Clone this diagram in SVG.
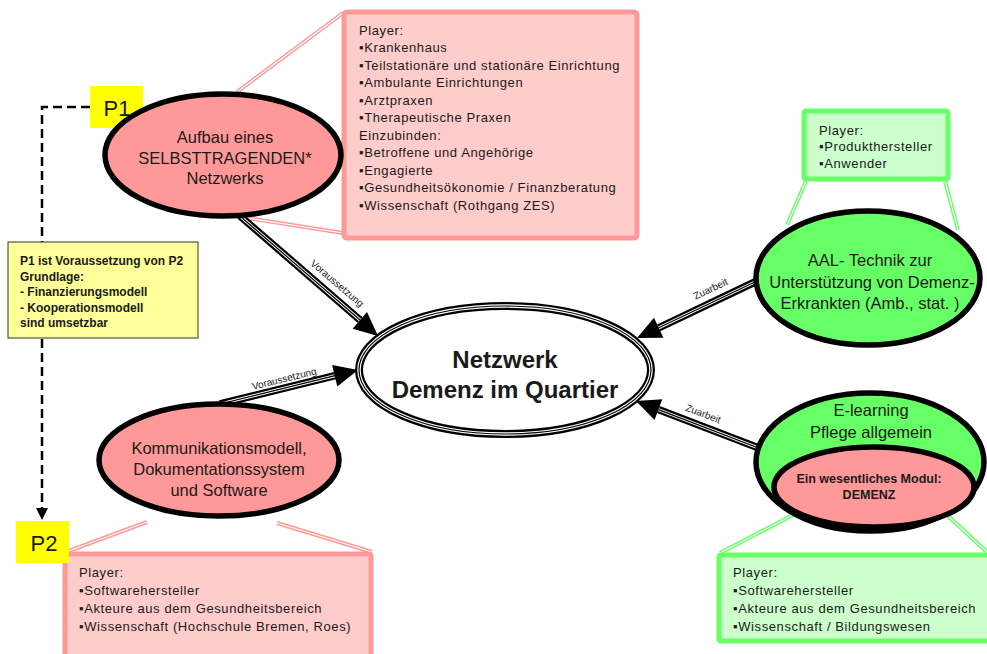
<svg xmlns="http://www.w3.org/2000/svg" width="987" height="654" viewBox="0 0 987 654">
<style>
text{font-family:"Liberation Sans",Arial,sans-serif;fill:#1a1a1a}
.bx{font-size:13px;letter-spacing:0.6px}
.el{font-size:16.5px}
.lab{font-size:10px}
.pinkbox{fill:#ffcccc;stroke:#ff9999;stroke-width:5}
.greenbox{fill:#ccffcc;stroke:#66ff66;stroke-width:5}
.pinkel{fill:#ff9999;stroke:#000;stroke-width:5.5}
.greenel{fill:#66ff66;stroke:#000;stroke-width:5.5}
.cpo{stroke:#ff9999;stroke-width:4;fill:none}
.cgo{stroke:#66ff66;stroke-width:4;fill:none}
.ci{stroke:#fff;stroke-width:1.2;fill:none}
.ao{stroke:#000;stroke-width:7.5;fill:none}
.ai{stroke:#fff;stroke-width:3;fill:none}
.ac{stroke:#000;stroke-width:1.2;fill:none}
.head{fill:#000}
</style>

<g id="callouts">
  <path class="cpo" d="M343,13 L237,92 M343,233 L247,218"/>
  <path class="ci" d="M343,13 L237,92 M343,233 L247,218"/>
  <path class="cgo" d="M806,181 L787,225 M945,181 L958,230"/>
  <path class="ci" d="M806,181 L787,225 M945,181 L958,230"/>
  <path class="cgo" d="M720,553 L793,515 M987,552 L947,515"/>
  <path class="ci" d="M720,553 L793,515 M987,552 L947,515"/>
  <path class="cpo" d="M66,552 L147,522 M372,552 L277,523"/>
  <path class="ci" d="M66,552 L147,522 M372,552 L277,523"/>
</g>

<g id="box-top">
  <rect class="pinkbox" x="344" y="12" width="293" height="226" rx="3"/>
  <text class="bx" x="359" y="35">Player:</text>
  <text class="bx" x="359" y="52">▪Krankenhaus</text>
  <text class="bx" x="359" y="69.5">▪Teilstationäre und stationäre Einrichtung</text>
  <text class="bx" x="359" y="87">▪Ambulante Einrichtungen</text>
  <text class="bx" x="359" y="104.5">▪Arztpraxen</text>
  <text class="bx" x="359" y="122">▪Therapeutische Praxen</text>
  <text class="bx" x="359" y="139.5">Einzubinden:</text>
  <text class="bx" x="359" y="157">▪Betroffene und Angehörige</text>
  <text class="bx" x="359" y="174.5">▪Engagierte</text>
  <text class="bx" x="359" y="192">▪Gesundheitsökonomie / Finanzberatung</text>
  <text class="bx" x="359" y="209.5">▪Wissenschaft (Rothgang ZES)</text>
</g>

<g id="box-aal">
  <rect class="greenbox" x="804" y="111" width="144" height="68" rx="2"/>
  <text class="bx" x="819" y="135">Player:</text>
  <text class="bx" x="819" y="151">▪Produkthersteller</text>
  <text class="bx" x="819" y="168">▪Anwender</text>
</g>

<g id="box-elearning">
  <rect class="greenbox" x="719" y="555" width="272" height="86" rx="2"/>
  <text class="bx" x="733" y="577">Player:</text>
  <text class="bx" x="733" y="594.5">▪Softwarehersteller</text>
  <text class="bx" x="733" y="612.5">▪Akteure aus dem Gesundheitsbereich</text>
  <text class="bx" x="733" y="630.5">▪Wissenschaft / Bildungswesen</text>
</g>

<g id="box-komm">
  <rect class="pinkbox" x="65" y="554" width="306" height="110" rx="2"/>
  <text class="bx" x="79" y="577">Player:</text>
  <text class="bx" x="79" y="594.5">▪Softwarehersteller</text>
  <text class="bx" x="79" y="612.5">▪Akteure aus dem Gesundheitsbereich</text>
  <text class="bx" x="79" y="630.5">▪Wissenschaft (Hochschule Bremen, Roes)</text>
</g>

<g id="dashed">
  <path d="M90,107 L42,107 L42,510" stroke="#000" stroke-width="2.5" fill="none" stroke-dasharray="9,5"/>
  <polygon points="42,520 36,508 48,508" fill="#000"/>
</g>

<g id="note">
  <rect x="8" y="242" width="190" height="96" fill="#ffff99" stroke="#333" stroke-width="1"/>
  <text x="20" y="265" font-size="12" font-weight="bold">P1 ist Voraussetzung von P2</text>
  <text x="20" y="280.5" font-size="12" font-weight="bold">Grundlage:</text>
  <text x="20" y="296" font-size="12" font-weight="bold">- Finanzierungsmodell</text>
  <text x="20" y="311.5" font-size="12" font-weight="bold">- Kooperationsmodell</text>
  <text x="20" y="327" font-size="12" font-weight="bold">sind umsetzbar</text>
</g>

<g id="connectors">
  <path class="ao" d="M240,216 L360,320"/>
  <path class="ai" d="M240,216 L360,320"/>
  <path class="ac" d="M240,216 L360,320"/>
  <polygon class="head" points="378,336 352.6,328.8 367,312"/>
  <text class="lab" transform="translate(335,286) rotate(40.5)" text-anchor="middle">Voraussetzung</text>

  <path class="ao" d="M220,404 L335,375.7"/>
  <path class="ai" d="M220,404 L335,375.7"/>
  <path class="ac" d="M220,404 L335,375.7"/>
  <polygon class="head" points="358,370 337.3,386.4 332.1,365"/>
  <text class="lab" transform="translate(285,382) rotate(-13.8)" text-anchor="middle">Voraussetzung</text>

  <path class="ao" d="M757,281 L658.7,327.8"/>
  <path class="ai" d="M757,281 L658.7,327.8"/>
  <path class="ac" d="M757,281 L658.7,327.8"/>
  <polygon class="head" points="637,338 654,317.8 663.4,337.8"/>
  <text class="lab" transform="translate(712,292) rotate(-25.2)" text-anchor="middle">Zuarbeit</text>

  <path class="ao" d="M790,460 L658.4,409.6"/>
  <path class="ai" d="M790,460 L658.4,409.6"/>
  <path class="ac" d="M790,460 L658.4,409.6"/>
  <polygon class="head" points="636,401 662.3,399.3 654.5,419.9"/>
  <text class="lab" transform="translate(702,417) rotate(21)" text-anchor="middle">Zuarbeit</text>
</g>

<g id="p1">
  <rect x="90" y="86" width="53" height="42" fill="#ffff00"/>
  <text x="117" y="116" font-size="22" text-anchor="middle">P1</text>
</g>

<g id="p2">
  <rect x="16" y="521" width="53" height="42" fill="#ffff00"/>
  <text x="44" y="551" font-size="22" text-anchor="middle">P2</text>
</g>

<g id="node-aufbau">
  <ellipse class="pinkel" cx="223" cy="155" rx="118" ry="61"/>
  <text class="el" x="225" y="143" text-anchor="middle">Aufbau eines</text>
  <text class="el" x="225" y="164" text-anchor="middle">SELBSTTRAGENDEN*</text>
  <text class="el" x="225" y="184" text-anchor="middle">Netzwerks</text>
</g>

<g id="node-center">
  <ellipse cx="505" cy="370" rx="146" ry="64" fill="#fff" stroke="#000" stroke-width="8"/>
  <ellipse cx="505" cy="370" rx="146" ry="64" fill="none" stroke="#fff" stroke-width="3.5"/>
  <ellipse cx="505" cy="370" rx="146" ry="64" fill="none" stroke="#000" stroke-width="1.2"/>
  <text x="505" y="368" font-size="24" font-weight="bold" text-anchor="middle">Netzwerk</text>
  <text x="505" y="398" font-size="24" font-weight="bold" text-anchor="middle">Demenz im Quartier</text>
</g>

<g id="node-aal">
  <ellipse class="greenel" cx="868" cy="278" rx="112" ry="67"/>
  <text class="el" x="870" y="266" text-anchor="middle">AAL- Technik zur</text>
  <text class="el" x="872" y="288" text-anchor="middle">Unterstützung von Demenz-</text>
  <text class="el" x="870" y="309" text-anchor="middle">Erkrankten (Amb., stat. )</text>
</g>

<g id="node-elearning">
  <ellipse class="greenel" cx="870" cy="462" rx="114" ry="69"/>
  <text class="el" x="871" y="416" text-anchor="middle">E-learning</text>
  <text class="el" x="871" y="438" text-anchor="middle">Pflege allgemein</text>
  <ellipse cx="874" cy="487" rx="100" ry="40" fill="#ff9999" stroke="#000" stroke-width="5.5"/>
  <text x="869" y="483" font-size="12.5" font-weight="bold" text-anchor="middle">Ein wesentliches Modul:</text>
  <text x="869" y="499" font-size="12.5" font-weight="bold" text-anchor="middle">DEMENZ</text>
</g>

<g id="node-komm">
  <ellipse class="pinkel" cx="219" cy="460" rx="120" ry="56"/>
  <text class="el" x="219" y="454" text-anchor="middle">Kommunikationsmodell,</text>
  <text class="el" x="219" y="475" text-anchor="middle">Dokumentationssystem</text>
  <text class="el" x="219" y="496" text-anchor="middle">und Software</text>
</g>
</svg>
